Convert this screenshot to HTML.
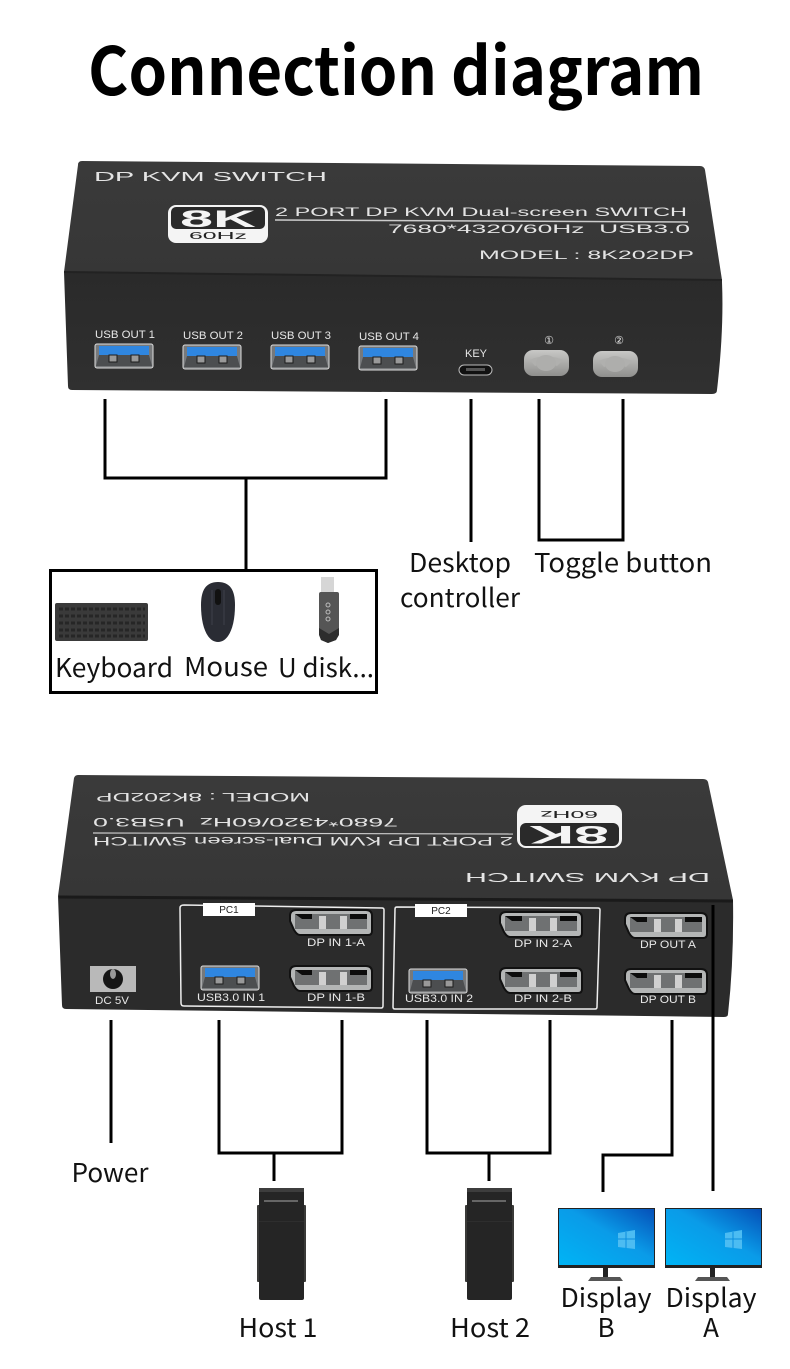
<!DOCTYPE html>
<html><head><meta charset="utf-8"><style>
html,body{margin:0;padding:0;background:#fff;width:790px;height:1369px;overflow:hidden}
svg{display:block}
.l{font-family:"Noto Sans CJK SC","Liberation Sans",sans-serif;font-size:26px;fill:#111;text-anchor:middle}
.w{font-family:"Liberation Sans",sans-serif;fill:#e4e4e4}
.p{font-family:"Liberation Sans",sans-serif;fill:#e8e8e8;font-size:11px;text-anchor:middle}
.c{fill:none;stroke:#000;stroke-width:3}
</style></head><body>
<svg width="790" height="1369" viewBox="0 0 790 1369" xmlns="http://www.w3.org/2000/svg">
<defs>
<linearGradient id="top" x1="0" y1="0" x2="0" y2="1"><stop offset="0" stop-color="#3a3a3a"/><stop offset="1" stop-color="#363636"/></linearGradient>
<linearGradient id="front" x1="0" y1="0" x2="0" y2="1"><stop offset="0" stop-color="#2a2a2a"/><stop offset="1" stop-color="#303030"/></linearGradient>
<linearGradient id="scr" x1="0" y1="1" x2="1" y2="0"><stop offset="0" stop-color="#00b4f5"/><stop offset=".55" stop-color="#0a9be8"/><stop offset="1" stop-color="#0550b8"/></linearGradient>
<linearGradient id="btn" x1="0" y1="0" x2="0" y2="1"><stop offset="0" stop-color="#c8c8c6"/><stop offset="1" stop-color="#8f8f8d"/></linearGradient>
<g id="usb">
<rect x="0" y="0" width="58" height="24" rx="2" fill="#77797b" stroke="#ddd" stroke-width="1"/>
<rect x="4" y="2" width="50" height="9" fill="#2f86e0"/>
<path d="M4 11H54L57 22H1Z" fill="#4c4e50"/>
<rect x="14" y="11" width="8" height="7" fill="#999" stroke="#1c1c1c"/>
<rect x="36" y="11" width="8" height="7" fill="#999" stroke="#1c1c1c"/>
</g>
<g id="dp">
<path d="M6 0H76Q82 0 82 6V21Q82 25 78 25H10Q7 25 4 20L0 11V6Q0 0 6 0Z" fill="#b4b6b6" stroke="#111" stroke-width="2"/>
<rect x="5" y="4" width="72" height="15" fill="#6f7172"/>
<path d="M5 4H22V9H12Z M60 4H77V9H60Z" fill="#0c0c0c"/>
<rect x="29" y="6" width="7" height="13" fill="#d0d0d0"/>
<rect x="50" y="6" width="7" height="13" fill="#d0d0d0"/>
</g>
<g id="tower">
<rect x="0" y="17" width="49" height="77" rx="1" fill="#3a3a38"/>
<path d="M2 2Q2 0 4 0H45Q47 0 47 2V110Q47 112 45 112H4Q2 112 2 110Z" fill="#252525"/>
<rect x="2" y="0" width="45" height="4" fill="#3d3d3d"/>
<rect x="7" y="12" width="34" height="2" fill="#666"/>
<rect x="2" y="33" width="45" height="1" fill="#2e2e2e"/>
</g>
<g id="mon">
<rect x="0" y="0" width="97" height="60" fill="#222"/>
<rect x="1" y="1" width="95" height="56" fill="url(#scr)"/>
<path d="M60 25L77 22V41L60 39Z" fill="#4cbcf2"/>
<path d="M68 24V40M60 31H77" stroke="#0a8ee0" stroke-width="1"/>
<rect x="45" y="60" width="5" height="12" fill="#222"/>
<path d="M33 69H62L65 73H30Z" fill="#555"/>
</g>
<g id="btn1">
<rect x="0" y="0" width="45" height="26" rx="9" fill="url(#btn)"/>
<path d="M6 10Q14 6 22 7Q30 6 39 10L33 16Q28 13 22 19Q16 13 11 16Z" fill="#b0b0ae"/>
<ellipse cx="22" cy="13" rx="10" ry="8" fill="#aeaeac"/>
</g>
</defs>

<text x="396" y="95" font-family="'Noto Sans CJK SC','Liberation Sans',sans-serif" font-weight="700" font-size="66" text-anchor="middle" textLength="616" lengthAdjust="spacingAndGlyphs" fill="#000">Connection diagram</text>

<!-- top device -->
<path d="M82 161L700 166Q704 166 705 170L722 280L64 272L78 165Q78 161 82 161Z" fill="url(#top)"/>
<path d="M64 272L722 280L722 282Q724 330 717 390Q717 394 712 394L72 390Q68 390 68 386Z" fill="url(#front)"/>
<path d="M64 272L722 280" stroke="#222" stroke-width="2"/>
<text class="w" x="94" y="181" font-size="13" textLength="233" lengthAdjust="spacingAndGlyphs">DP KVM SWITCH</text>
<rect x="168" y="205" width="100" height="38" rx="8" fill="#f4f4f4"/>
<rect x="171" y="207" width="94" height="22" rx="5" fill="#2a2a2a"/>
<text x="218" y="227" font-family="'Liberation Sans',sans-serif" font-weight="bold" font-size="24" fill="#f4f4f4" text-anchor="middle" textLength="76" lengthAdjust="spacingAndGlyphs">8K</text>
<text x="218" y="239" font-family="'Liberation Sans',sans-serif" font-size="10" fill="#222" text-anchor="middle" textLength="58" lengthAdjust="spacingAndGlyphs">60Hz</text>
<text class="w" x="275" y="216" font-size="12" textLength="412" lengthAdjust="spacingAndGlyphs">2 PORT DP KVM Dual-screen SWITCH</text>
<path d="M275 220L688 222" stroke="#ccc" stroke-width="1.5"/>
<text class="w" x="388" y="233" font-size="12" textLength="302" lengthAdjust="spacingAndGlyphs">7680*4320/60Hz&#160;&#160;USB3.0</text>
<text class="w" x="479" y="259" font-size="12" textLength="215" lengthAdjust="spacingAndGlyphs">MODEL : 8K202DP</text>

<text class="p" x="125" y="338" textLength="60" lengthAdjust="spacingAndGlyphs">USB OUT 1</text>
<text class="p" x="213" y="339" textLength="60" lengthAdjust="spacingAndGlyphs">USB OUT 2</text>
<text class="p" x="301" y="339" textLength="60" lengthAdjust="spacingAndGlyphs">USB OUT 3</text>
<text class="p" x="389" y="340" textLength="60" lengthAdjust="spacingAndGlyphs">USB OUT 4</text>
<use href="#usb" x="95" y="344"/>
<use href="#usb" x="183" y="345"/>
<use href="#usb" x="271" y="345"/>
<use href="#usb" x="359" y="346"/>
<text class="p" x="476" y="357" textLength="22" lengthAdjust="spacingAndGlyphs">KEY</text>
<rect x="459" y="365" width="33" height="10" rx="5" fill="#111" stroke="#bbb"/>
<rect x="466" y="368" width="19" height="3" fill="#555"/>
<text class="p" x="549" y="344" font-size="12">①</text>
<text class="p" x="619" y="344" font-size="12">②</text>
<use href="#btn1" x="524" y="350"/>
<use href="#btn1" x="593" y="351"/>

<!-- top connectors -->
<path class="c" d="M105 399V478H386V399M246 478V570"/>
<path class="c" d="M471 399V542"/>
<path class="c" d="M539 399V540H623V399"/>
<rect x="50.500" y="570.500" width="326" height="122" fill="none" stroke="#000" stroke-width="3"/>

<!-- keyboard -->
<rect x="55" y="603" width="93" height="38" rx="2" fill="#3a3a3a"/>
<g stroke="#262626" stroke-width="3" stroke-dasharray="4 2">
<path d="M59 609H145M59 616H145M59 623H145M59 630H145M59 636H145"/>
</g>
<!-- mouse -->
<path d="M218 582C206 582 201 590 201 605C201 628 208 642 218 642C228 642 235 628 235 605C235 590 230 582 218 582Z" fill="#2a2c34"/>
<rect x="215" y="589" width="6" height="16" rx="3" fill="#111"/>
<path d="M212 590V625M224 590V625" stroke="#3d404a" stroke-width="1"/>
<!-- u disk -->
<rect x="321" y="577" width="13" height="15" fill="#d6d6d6"/>
<path d="M319 594Q319 592 321 592H337Q339 592 339 594V633L336 640L328 643L321 640L319 633Z" fill="#555"/>
<path d="M319 628L329 634L339 628V635L336 640L328 643L321 640L319 635Z" fill="#2d2d2d"/>
<g fill="none" stroke="#bbb" stroke-width="1"><circle cx="328" cy="605" r="2"/><circle cx="328" cy="612" r="2"/><circle cx="328" cy="619" r="2"/></g>

<text class="l" x="114" y="677" textLength="118" lengthAdjust="spacingAndGlyphs">Keyboard</text>
<text class="l" x="226" y="676" textLength="84" lengthAdjust="spacingAndGlyphs">Mouse</text>
<text class="l" x="326" y="677" textLength="96" lengthAdjust="spacingAndGlyphs">U disk...</text>
<text class="l" x="460" y="572" textLength="102" lengthAdjust="spacingAndGlyphs">Desktop</text>
<text class="l" x="460" y="607" textLength="120" lengthAdjust="spacingAndGlyphs">controller</text>
<text class="l" x="623" y="572" textLength="178" lengthAdjust="spacingAndGlyphs">Toggle button</text>

<!-- bottom device -->
<path d="M78 775L703 779Q707 779 708 782L733 900L58 896L74 778Q75 775 78 775Z" fill="url(#top)"/>
<path d="M58 896L733 900Q734 960 728 1014Q728 1017 724 1017L66 1009Q62 1009 62 1005Z" fill="#2b2b2b"/>
<path d="M59 897L733 901" stroke="#1a1a1a" stroke-width="3"/>
<g transform="rotate(180 390 840)">
<text class="w" x="70" y="807" font-size="13" textLength="245" lengthAdjust="spacingAndGlyphs">DP KVM SWITCH</text>
<text class="w" x="267" y="843" font-size="12" textLength="420" lengthAdjust="spacingAndGlyphs">2 PORT DP KVM Dual-screen SWITCH</text>
<text class="w" x="382" y="862" font-size="12" textLength="305" lengthAdjust="spacingAndGlyphs">7680*4320/60Hz&#160;&#160;USB3.0</text>
<text class="w" x="470" y="887" font-size="12" textLength="214" lengthAdjust="spacingAndGlyphs">MODEL : 8K202DP</text>
</g>
<path d="M93 833L513 834" stroke="#ccc" stroke-width="1.2"/>
<rect x="517" y="805" width="105" height="43" rx="9" fill="#f4f4f4"/>
<rect x="520" y="823" width="99" height="23" rx="6" fill="#2a2a2a"/>
<text x="569" y="819" font-family="'Liberation Sans',sans-serif" font-size="10" fill="#222" text-anchor="middle" textLength="58" lengthAdjust="spacingAndGlyphs" transform="rotate(180 569 815)">60Hz</text>
<text x="569" y="843" font-family="'Liberation Sans',sans-serif" font-weight="bold" font-size="25" fill="#f4f4f4" text-anchor="middle" textLength="80" lengthAdjust="spacingAndGlyphs" transform="rotate(180 569 834.500)">8K</text>

<path d="M184 905L382 908Q384 908 384 910L383 1006Q383 1008 381 1008L184 1006Q181 1006 181 1003L180 908Q180 905 184 905Z" fill="none" stroke="#eee" stroke-width="1.5"/>
<path d="M397 907L598 908Q600 908 600 910L597 1007Q597 1009 595 1009L395 1009Q393 1009 393 1007L395 909Q395 907 397 907Z" fill="none" stroke="#eee" stroke-width="1.5"/>
<rect x="203" y="903" width="52" height="13" fill="#fff"/>
<rect x="415" y="904" width="52" height="13" fill="#fff"/>
<text x="229" y="913" font-family="'Liberation Sans',sans-serif" font-size="10" fill="#222" text-anchor="middle">PC1</text>
<text x="441" y="914" font-family="'Liberation Sans',sans-serif" font-size="10" fill="#222" text-anchor="middle">PC2</text>

<use href="#dp" x="290" y="910"/>
<use href="#dp" x="290" y="966"/>
<use href="#dp" x="500" y="912"/>
<use href="#dp" x="500" y="968"/>
<use href="#dp" x="625" y="913"/>
<use href="#dp" x="625" y="969"/>
<use href="#usb" x="201" y="966"/>
<use href="#usb" x="409" y="969"/>
<rect x="90" y="966" width="46" height="26" fill="#b9b9b9"/>
<circle cx="113" cy="979" r="10" fill="#161616"/>
<ellipse cx="113" cy="974" rx="3" ry="5" fill="#999"/>

<text class="p" x="112" y="1004" textLength="34" lengthAdjust="spacingAndGlyphs">DC 5V</text>
<text class="p" x="231" y="1001" textLength="68" lengthAdjust="spacingAndGlyphs">USB3.0 IN 1</text>
<text class="p" x="336" y="946" textLength="58" lengthAdjust="spacingAndGlyphs">DP IN 1-A</text>
<text class="p" x="336" y="1001" textLength="58" lengthAdjust="spacingAndGlyphs">DP IN 1-B</text>
<text class="p" x="439" y="1002" textLength="68" lengthAdjust="spacingAndGlyphs">USB3.0 IN 2</text>
<text class="p" x="543" y="947" textLength="58" lengthAdjust="spacingAndGlyphs">DP IN 2-A</text>
<text class="p" x="543" y="1002" textLength="58" lengthAdjust="spacingAndGlyphs">DP IN 2-B</text>
<text class="p" x="668" y="948" textLength="56" lengthAdjust="spacingAndGlyphs">DP OUT A</text>
<text class="p" x="668" y="1003" textLength="56" lengthAdjust="spacingAndGlyphs">DP OUT B</text>

<!-- bottom connectors -->
<path class="c" d="M111 1020V1143"/>
<path class="c" d="M219 1020V1153H342V1020M274 1153V1181"/>
<path class="c" d="M427 1020V1153H550V1020M489 1153V1181"/>
<path class="c" d="M672 1020V1155H603V1192"/>
<path class="c" d="M713 905V1191"/>

<use href="#tower" x="257" y="1188"/>
<use href="#tower" x="465" y="1188"/>
<use href="#mon" x="558" y="1208"/>
<use href="#mon" x="665" y="1208"/>

<text class="l" x="110" y="1182" textLength="77" lengthAdjust="spacingAndGlyphs">Power</text>
<text class="l" x="278" y="1337" textLength="79" lengthAdjust="spacingAndGlyphs">Host 1</text>
<text class="l" x="490" y="1337" textLength="80" lengthAdjust="spacingAndGlyphs">Host 2</text>
<text class="l" x="606" y="1307" textLength="91" lengthAdjust="spacingAndGlyphs">Display</text>
<text class="l" x="606" y="1337">B</text>
<text class="l" x="711" y="1307" textLength="91" lengthAdjust="spacingAndGlyphs">Display</text>
<text class="l" x="711" y="1337">A</text>
</svg>
</body></html>
